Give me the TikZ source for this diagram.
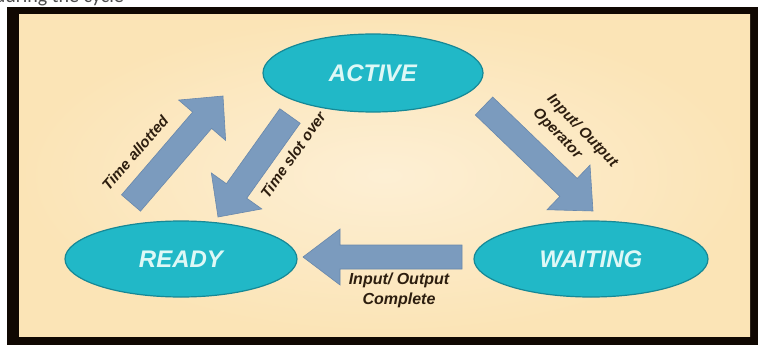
\documentclass[tikz,border=0pt]{standalone}
\usepackage{fontspec}
\setmainfont{Liberation Sans}
\newfontfamily\topfont{Carlito}
\usetikzlibrary{shapes.geometric,calc}
\definecolor{creamout}{RGB}{251,228,182}
\definecolor{creamin}{RGB}{253,239,212}
\definecolor{framec}{RGB}{16,8,2}
\definecolor{stfill}{RGB}{33,184,199}
\definecolor{stedge}{RGB}{22,136,150}
\definecolor{sttext}{RGB}{222,248,246}
\definecolor{arrowc}{RGB}{123,155,190}
\definecolor{arrowedge}{RGB}{105,136,172}
\definecolor{lblc}{RGB}{45,30,15}
\newcommand\myblockarrow[5]{%
  \coordinate (hb-#2) at ($(#2)!#5!(#1)$);
  \filldraw[fill=arrowc, draw=arrowedge, line width=0.6pt, line join=miter]
    ($(#1)!#3!90:(#2)$) -- ($(hb-#2)!#3!90:(#2)$) -- ($(hb-#2)!#4!90:(#2)$) -- (#2)
    -- ($(hb-#2)!#4!-90:(#2)$) -- ($(hb-#2)!#3!-90:(#2)$) -- ($(#1)!#3!-90:(#2)$) -- cycle;}
\begin{document}
\begin{tikzpicture}[x=1pt,y=-1pt,
  state/.style={ellipse, fill=stfill, draw=stedge, line width=1.2pt, inner sep=0pt,
    text=sttext, font=\bfseries\itshape\fontsize{24}{28}\selectfont},
  lbl/.style={text=lblc, font=\bfseries\itshape\fontsize{15}{20}\selectfont, inner sep=1pt}]
\useasboundingbox (0,0) rectangle (758,345);
\fill[white] (0,0) rectangle (758,345);
\begin{scope}
  \clip (0,0) rectangle (758,7);
  \node[anchor=base east, font=\topfont\fontsize{20}{24}\selectfont, text=black!70, inner sep=0pt] (toptext) at (124,3) {during the cycle};
\end{scope}
\fill[framec] (7,7) rectangle (758,345);
\shade[inner color=creamin, outer color=creamout] (19,15) rectangle (750,336);

\node[state, minimum width=220pt, minimum height=78pt] (active) at (373,73) {ACTIVE};
\node[state, minimum width=232pt, minimum height=76pt] (ready) at (181,259) {READY};
\node[state, minimum width=234pt, minimum height=76pt] (waiting) at (591,259) {WAITING};

\coordinate (a1s) at (131,203); \coordinate (a1e) at (223,96);
\coordinate (a2s) at (290,116); \coordinate (a2e) at (218,217);
\coordinate (a3s) at (484,106); \coordinate (a3e) at (593,211);
\coordinate (a4s) at (462,257); \coordinate (a4e) at (303,257);

\myblockarrow{a1s}{a1e}{12.5pt}{31pt}{32pt}
\myblockarrow{a2s}{a2e}{12.5pt}{31pt}{32pt}
\myblockarrow{a3s}{a3e}{12.5pt}{31pt}{34pt}
\myblockarrow{a4s}{a4e}{12pt}{28pt}{37pt}

\node[lbl, rotate=49] (l1) at (135,153) {Time allotted};
\node[lbl, rotate=55] (l2) at (293,155) {Time slot over};
\node[lbl, rotate=-46, align=left] (l3) at (575,138) {Input/ Output\\Operator};
\node[lbl, align=center, font=\bfseries\itshape\fontsize{16}{20}\selectfont] (l4) at (399,290) {Input/ Output\\Complete};
\end{tikzpicture}
\end{document}
